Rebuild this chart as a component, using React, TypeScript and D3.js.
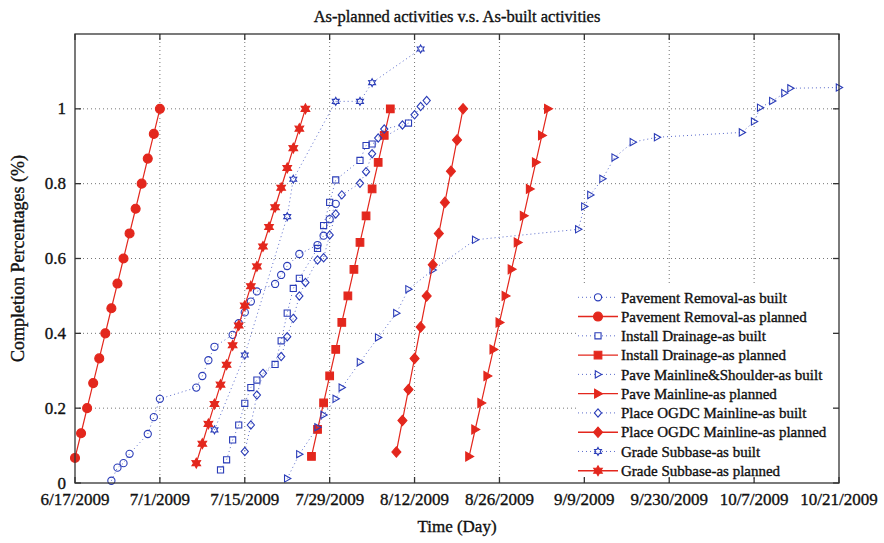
import { useEffect, useRef } from "react";
import * as d3 from "d3";

// axis ticks
const xTickDates = ["6/17", "7/1", "7/15", "7/29", "8/12", "8/26", "9/9", "9/23", "10/7", "10/21"];
const xTickLabels = ["6/17/2009", "7/1/2009", "7/15/2009", "7/29/2009", "8/12/2009", "8/26/2009", "9/9/2009", "9/230/2009", "10/7/2009", "10/21/2009"];
const yTicks = [0, 0.2, 0.4, 0.6, 0.8, 1];
const yTickLabels = ["0", "0.2", "0.4", "0.6", "0.8", "1"];

// Pavement Removal
const prBuiltDates = ["6/23", "6/24", "6/25", "6/26", "6/29", "6/30", "7/1", "7/7", "7/8", "7/9", "7/10", "7/13", "7/14", "7/15", "7/16", "7/17", "7/20", "7/21", "7/22", "7/24", "7/27", "7/28", "7/29", "7/30"];
const prBuiltVals = [0.006, 0.041, 0.053, 0.078, 0.131, 0.176, 0.225, 0.255, 0.286, 0.328, 0.364, 0.396, 0.427, 0.456, 0.485, 0.512, 0.532, 0.556, 0.58, 0.612, 0.636, 0.661, 0.705, 0.746];
const prPlannedDates = ["6/17", "6/18", "6/19", "6/20", "6/21", "6/22", "6/23", "6/24", "6/25", "6/26", "6/27", "6/28", "6/29", "6/30", "7/1"];
const prPlannedVals = [0.067, 0.133, 0.2, 0.267, 0.333, 0.4, 0.467, 0.533, 0.6, 0.667, 0.733, 0.8, 0.867, 0.933, 1.0];

// Install Drainage
const idBuiltDates = ["7/11", "7/12", "7/13", "7/14", "7/15", "7/16", "7/17", "7/20", "7/21", "7/22", "7/23", "7/24", "7/27", "7/28", "7/29", "7/30", "8/3", "8/4", "8/5", "8/11"];
const idBuiltVals = [0.035, 0.062, 0.115, 0.155, 0.213, 0.255, 0.275, 0.317, 0.38, 0.454, 0.52, 0.547, 0.627, 0.688, 0.75, 0.81, 0.862, 0.902, 0.906, 0.962];
const idPlannedDates = ["7/26", "7/27", "7/28", "7/29", "7/30", "7/31", "8/1", "8/2", "8/3", "8/4", "8/5", "8/6", "8/7", "8/8"];
const idPlannedVals = [0.071, 0.143, 0.214, 0.286, 0.357, 0.429, 0.5, 0.571, 0.643, 0.714, 0.786, 0.857, 0.929, 1.0];

// Pave Mainline
const pmBuiltDates = ["7/22", "7/24", "7/27", "7/28", "7/30", "7/31", "8/3", "8/6", "8/9", "8/11", "8/15", "8/22", "9/8", "9/9", "9/10", "9/12", "9/14", "9/17", "9/21", "10/5", "10/7", "10/8", "10/10", "10/12", "10/13", "10/21"];
const pmBuiltVals = [0.012, 0.077, 0.149, 0.182, 0.225, 0.255, 0.323, 0.389, 0.454, 0.518, 0.569, 0.65, 0.678, 0.739, 0.77, 0.813, 0.87, 0.911, 0.924, 0.937, 0.966, 1.003, 1.021, 1.042, 1.055, 1.057];
const pmPlannedDates = ["8/21", "8/22", "8/23", "8/24", "8/25", "8/26", "8/27", "8/28", "8/29", "8/30", "8/31", "9/1", "9/2", "9/3"];
const pmPlannedVals = [0.071, 0.143, 0.214, 0.286, 0.357, 0.429, 0.5, 0.571, 0.643, 0.714, 0.786, 0.857, 0.929, 1.0];

// Place OGDC Mainline
const ogBuiltDates = ["7/15", "7/16", "7/17", "7/18", "7/21", "7/22", "7/23", "7/24", "7/25", "7/27", "7/28", "7/29", "7/30", "7/31", "8/3", "8/4", "8/5", "8/6", "8/7", "8/10", "8/12", "8/13", "8/14"];
const ogBuiltVals = [0.084, 0.155, 0.235, 0.293, 0.338, 0.391, 0.44, 0.5, 0.536, 0.596, 0.602, 0.663, 0.719, 0.77, 0.801, 0.832, 0.88, 0.922, 0.946, 0.957, 0.984, 1.006, 1.022];
const ogPlannedDates = ["8/9", "8/10", "8/11", "8/12", "8/13", "8/14", "8/15", "8/16", "8/17", "8/18", "8/19", "8/20"];
const ogPlannedVals = [0.083, 0.167, 0.25, 0.333, 0.417, 0.5, 0.583, 0.667, 0.75, 0.833, 0.917, 1.0];

// Grade Subbase
const gsBuiltDates = ["7/10", "7/15", "7/22", "7/23", "7/30", "8/3", "8/5", "8/13"];
const gsBuiltVals = [0.142, 0.342, 0.712, 0.812, 1.02, 1.02, 1.07, 1.16];
const gsPlannedDates = ["7/7", "7/8", "7/9", "7/10", "7/11", "7/12", "7/13", "7/14", "7/15", "7/16", "7/17", "7/18", "7/19", "7/20", "7/21", "7/22", "7/23", "7/24", "7/25"];
const gsPlannedVals = [0.053, 0.105, 0.158, 0.211, 0.263, 0.316, 0.368, 0.421, 0.474, 0.526, 0.579, 0.632, 0.684, 0.737, 0.789, 0.842, 0.895, 0.947, 1.0];

type Marker = "circle" | "square" | "triangle" | "diamond" | "hexagram";
type Series = { name: string; dates: string[]; vals: number[]; built: boolean; marker: Marker };

const series: Series[] = [
  { name: "Pavement Removal-as built", dates: prBuiltDates, vals: prBuiltVals, built: true, marker: "circle" },
  { name: "Pavement Removal-as planned", dates: prPlannedDates, vals: prPlannedVals, built: false, marker: "circle" },
  { name: "Install Drainage-as built", dates: idBuiltDates, vals: idBuiltVals, built: true, marker: "square" },
  { name: "Install Drainage-as planned", dates: idPlannedDates, vals: idPlannedVals, built: false, marker: "square" },
  { name: "Pave Mainline&Shoulder-as built", dates: pmBuiltDates, vals: pmBuiltVals, built: true, marker: "triangle" },
  { name: "Pave Mainline-as planned", dates: pmPlannedDates, vals: pmPlannedVals, built: false, marker: "triangle" },
  { name: "Place OGDC Mainline-as built", dates: ogBuiltDates, vals: ogBuiltVals, built: true, marker: "diamond" },
  { name: "Place OGDC Mainline-as planned", dates: ogPlannedDates, vals: ogPlannedVals, built: false, marker: "diamond" },
  { name: "Grade Subbase-as built", dates: gsBuiltDates, vals: gsBuiltVals, built: true, marker: "hexagram" },
  { name: "Grade Subbase-as planned", dates: gsPlannedDates, vals: gsPlannedVals, built: false, marker: "hexagram" },
];

const BLUE = "#2a3cb8";
const BLUE_LINE = "#5b6ccc";
const RED = "#e3271d";
const FONT = "'Liberation Serif', 'Times New Roman', serif";

const parseDay = (s: string) => {
  const [m, d] = s.split("/").map(Number);
  return new Date(Date.UTC(2009, m - 1, d));
};

// marker outline, centred on 0,0
const markerPath = (kind: Marker, r: number) => {
  const closed = d3.line().curve(d3.curveLinearClosed);
  if (kind === "circle") return d3.symbol(d3.symbolCircle, Math.PI * r * r)()!;
  if (kind === "square") return closed([[-r * 0.85, -r * 0.85], [r * 0.85, -r * 0.85], [r * 0.85, r * 0.85], [-r * 0.85, r * 0.85]])!;
  if (kind === "triangle") return closed([[r, 0], [-r * 0.75, -r], [-r * 0.75, r]])!;
  if (kind === "diamond") return closed([[0, -r * 1.15], [r, 0], [0, r * 1.15], [-r, 0]])!;
  const pts: [number, number][] = [];
  for (let i = 0; i < 12; i++) {
    const a = -Math.PI / 2 + (i * Math.PI) / 6;
    const rr = i % 2 === 0 ? r * 1.1 : r * 0.62;
    pts.push([rr * Math.cos(a), rr * Math.sin(a)]);
  }
  return closed(pts)!;
};

const App = () => {
  const svgRef = useRef<SVGSVGElement>(null);
  const width = 884;
  const height = 543;
  const plot = { left: 75, right: 839, top: 34, bottom: 483 };

  const xScale = d3
    .scaleUtc()
    .domain([parseDay("6/17"), parseDay("10/21")])
    .range([plot.left, plot.right]);
  const yScale = d3.scaleLinear().domain([0, 1.2]).range([plot.bottom, plot.top]);

  useEffect(() => {
    if (!svgRef.current) return;
    const svg = d3.select(svgRef.current);
    svg.selectAll("*").remove();

    svg.append("rect").attr("width", width).attr("height", height).attr("fill", "white");

    // grid
    const grid = svg.append("g").attr("stroke", "#666").attr("stroke-width", 0.9).attr("stroke-dasharray", "1,3");
    xTickDates.slice(1, -1).forEach((d) => {
      const x = xScale(parseDay(d));
      grid.append("line").attr("x1", x).attr("x2", x).attr("y1", plot.bottom).attr("y2", plot.top);
    });
    yTicks.slice(1).forEach((v) => {
      grid.append("line").attr("x1", plot.left).attr("x2", plot.right).attr("y1", yScale(v)).attr("y2", yScale(v));
    });

    // series
    const line = d3
      .line<[Date, number]>()
      .x((d) => xScale(d[0]))
      .y((d) => yScale(d[1]));

    series.forEach((s) => {
      const pts = s.dates.map((d, i) => [parseDay(d), s.vals[i]] as [Date, number]);
      const g = svg.append("g");
      g.append("path")
        .attr("d", line(pts))
        .attr("fill", "none")
        .attr("stroke", s.built ? BLUE_LINE : RED)
        .attr("stroke-width", s.built ? 1 : 1.2)
        .attr("stroke-dasharray", s.built ? "1,3" : null);
      const p = markerPath(s.marker, s.built ? 3.6 : 4.5);
      g.selectAll("path.m")
        .data(pts)
        .enter()
        .append("path")
        .attr("class", "m")
        .attr("d", p)
        .attr("transform", (d) => `translate(${xScale(d[0])},${yScale(d[1])})`)
        .attr("fill", s.built ? "none" : RED)
        .attr("stroke", s.built ? BLUE : RED)
        .attr("stroke-width", 1.1);
    });

    // legend
    const lg = svg.append("g");
    lg.append("rect").attr("x", 576).attr("y", 285).attr("width", 262).attr("height", 193).attr("fill", "white");
    series.forEach((s, i) => {
      const y = 297.3 + i * 19.27;
      lg.append("line")
        .attr("x1", 578)
        .attr("x2", 618)
        .attr("y1", y)
        .attr("y2", y)
        .attr("stroke", s.built ? BLUE_LINE : RED)
        .attr("stroke-width", s.built ? 1 : 1.4)
        .attr("stroke-dasharray", s.built ? "1,3" : null);
      lg.append("path")
        .attr("d", markerPath(s.marker, s.built ? 3.6 : 4.5))
        .attr("transform", `translate(598,${y})`)
        .attr("fill", s.built ? "white" : RED)
        .attr("stroke", s.built ? BLUE : RED)
        .attr("stroke-width", 1.1);
      lg.append("text")
        .attr("x", 621)
        .attr("y", y)
        .attr("dy", "0.35em")
        .attr("font-family", FONT)
        .attr("font-size", 15)
        .attr("fill", "#111")
        .attr("stroke", "#111")
        .attr("stroke-width", 0.35)
        .text(s.name);
    });

    // axes box and ticks
    const ax = svg.append("g").attr("stroke", "#333").attr("stroke-width", 1.3);
    ax.append("rect")
      .attr("x", plot.left)
      .attr("y", plot.top)
      .attr("width", plot.right - plot.left)
      .attr("height", plot.bottom - plot.top)
      .attr("fill", "none");
    xTickDates.forEach((d) => {
      const x = xScale(parseDay(d));
      ax.append("line").attr("x1", x).attr("x2", x).attr("y1", plot.bottom).attr("y2", plot.bottom - 6);
      ax.append("line").attr("x1", x).attr("x2", x).attr("y1", plot.top).attr("y2", plot.top + 6);
    });
    yTicks.forEach((v) => {
      const y = yScale(v);
      ax.append("line").attr("x1", plot.left).attr("x2", plot.left + 6).attr("y1", y).attr("y2", y);
      ax.append("line").attr("x1", plot.right).attr("x2", plot.right - 6).attr("y1", y).attr("y2", y);
    });

    // tick labels
    const txt = svg
      .append("g")
      .attr("font-family", FONT)
      .attr("fill", "#111")
      .attr("stroke", "#111")
      .attr("stroke-width", 0.35);
    xTickDates.forEach((d, i) => {
      txt.append("text")
        .attr("x", xScale(parseDay(d)))
        .attr("y", 505)
        .attr("text-anchor", "middle")
        .attr("font-size", 17)
        .text(xTickLabels[i]);
    });
    yTicks.forEach((v, i) => {
      txt.append("text")
        .attr("x", 66)
        .attr("y", yScale(v))
        .attr("dy", "0.33em")
        .attr("text-anchor", "end")
        .attr("font-size", 17)
        .text(yTickLabels[i]);
    });

    // titles
    txt.append("text")
      .attr("x", (plot.left + plot.right) / 2)
      .attr("y", 22)
      .attr("text-anchor", "middle")
      .attr("font-size", 16.5)
      .text("As-planned activities v.s. As-built activities");
    txt.append("text")
      .attr("x", (plot.left + plot.right) / 2)
      .attr("y", 532)
      .attr("text-anchor", "middle")
      .attr("font-size", 17)
      .text("Time (Day)");
    txt.append("text")
      .attr("transform", `translate(24,${(plot.top + plot.bottom) / 2}) rotate(-90)`)
      .attr("text-anchor", "middle")
      .attr("font-size", 18)
      .text("Completion Percentages (%)");
  }, [xScale, yScale]);

  return (
    <svg
      ref={svgRef}
      width={width}
      height={height}
      style={{ position: "absolute", left: 0, top: 0, display: "block" }}
    ></svg>
  );
};

export default App;
